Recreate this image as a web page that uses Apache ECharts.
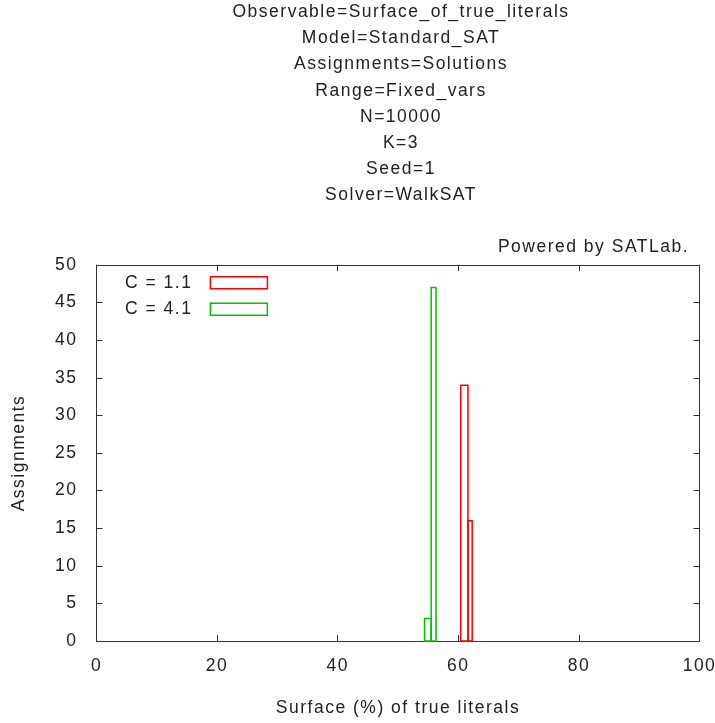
<!DOCTYPE html>
<html>
<head>
<meta charset="utf-8">
<script src="https://cdn.jsdelivr.net/npm/echarts@6/dist/echarts.min.js"></script>
<style>html,body{margin:0;padding:0;background:#fff;}#c{width:715px;height:723px;}</style>
</head>
<body>
<div id="c"></div>
<script>
// Title lines
const titleLines = [
  "Observable=Surface_of_true_literals",
  "Model=Standard_SAT",
  "Assignments=Solutions",
  "Range=Fixed_vars",
  "N=10000",
  "K=3",
  "Seed=1",
  "Solver=WalkSAT"
];
const xLabel = "Surface (%) of true literals";
const yLabel = "Assignments";
const credit = "Powered by SATLab.";
const seriesNames = ["C = 1.1", "C = 4.1"];
// histogram bins: [start, end, count]
const binsC11 = [[60.4, 61.6, 34], [61.6, 62.3, 16]];
const binsC41 = [[54.4, 55.5, 3], [55.5, 56.3, 47]];
const xTicks = [0, 20, 40, 60, 80, 100];
const yTicks = [0, 5, 10, 15, 20, 25, 30, 35, 40, 45, 50];

const FONT = "Liberation Sans";
const FS = 17.5;
const TXT = "#222";
const colors = ["#ff0000", "#00c000"];

// wide letter spacing like the original gnuplot/libgd text rendering
(function () {
  const proto = CanvasRenderingContext2D.prototype;
  const desc = Object.getOwnPropertyDescriptor(proto, 'font');
  if (desc && desc.set && ('letterSpacing' in proto)) {
    Object.defineProperty(proto, 'font', {
      configurable: true,
      get: function () { return desc.get.call(this); },
      set: function (v) { desc.set.call(this, v); this.letterSpacing = '1.5px'; }
    });
  }
})();

const chart = echarts.init(document.getElementById('c'), null, { renderer: 'canvas' });

function makeRender(color) {
  return function (params, api) {
    const p0 = api.coord([api.value(0), 0]);
    const p1 = api.coord([api.value(1), api.value(2)]);
    return {
      type: 'rect',
      shape: { x: p0[0], y: p1[1], width: p1[0] - p0[0], height: p0[1] - p1[1] },
      style: { fill: 'none', stroke: color, lineWidth: 1.5 }
    };
  };
}

const axisCommon = {
  type: 'value',
  splitLine: { show: false },
  axisLine: { show: true, onZero: false, lineStyle: { color: '#333', width: 1 } },
  axisTick: { show: true, inside: true, length: 6, lineStyle: { color: '#333' } }
};

chart.setOption({
  animation: false,
  backgroundColor: '#fff',
  title: {
    text: titleLines.join('\n'),
    left: 396, top: -6, textAlign: 'center',
    textStyle: { fontFamily: FONT, fontSize: FS, fontWeight: 'normal', color: TXT, lineHeight: 26.2 }
  },
  grid: { left: 96.5, right: 15.5, top: 265, bottom: 82, outerBoundsMode: 'none', containLabel: false },
  legend: {
    orient: 'vertical', left: 120, top: 268, align: 'right',
    itemWidth: 57, itemHeight: 12, itemGap: 7,
    textStyle: { fontFamily: FONT, fontSize: FS, color: TXT, padding: [0, 13, 0, 0] },
    data: [
      { name: seriesNames[0], icon: 'rect', itemStyle: { color: '#fff', borderColor: colors[0], borderWidth: 1.5 } },
      { name: seriesNames[1], icon: 'rect', itemStyle: { color: '#fff', borderColor: colors[1], borderWidth: 1.5 } }
    ]
  },
  xAxis: [
    Object.assign({}, axisCommon, {
      position: 'bottom', min: xTicks[0], max: xTicks[xTicks.length - 1], interval: 20,
      name: xLabel, nameLocation: 'middle', nameGap: 57,
      nameTextStyle: { fontFamily: FONT, fontSize: FS, color: TXT },
      axisLabel: { fontFamily: FONT, fontSize: FS, color: TXT, margin: 15 }
    }),
    Object.assign({}, axisCommon, {
      position: 'top', min: xTicks[0], max: xTicks[xTicks.length - 1], interval: 20,
      axisLabel: { show: false }
    })
  ],
  yAxis: [
    Object.assign({}, axisCommon, {
      position: 'left', min: yTicks[0], max: yTicks[yTicks.length - 1], interval: 5,
      name: yLabel, nameLocation: 'middle', nameGap: 68,
      nameTextStyle: { fontFamily: FONT, fontSize: FS, color: TXT },
      axisLabel: { fontFamily: FONT, fontSize: FS, color: TXT, margin: 19 }
    }),
    Object.assign({}, axisCommon, {
      position: 'right', min: yTicks[0], max: yTicks[yTicks.length - 1], interval: 5,
      axisLabel: { show: false }
    })
  ],
  graphic: [{
    type: 'text', right: 26, top: 237,
    style: { text: credit, font: FS + 'px "' + FONT + '"', fill: TXT }
  }],
  series: [
    {
      name: seriesNames[0], type: 'custom', xAxisIndex: 0, yAxisIndex: 0,
      renderItem: makeRender(colors[0]), encode: { x: [0, 1], y: 2 },
      itemStyle: { color: colors[0] }, data: binsC11
    },
    {
      name: seriesNames[1], type: 'custom', xAxisIndex: 0, yAxisIndex: 0,
      renderItem: makeRender(colors[1]), encode: { x: [0, 1], y: 2 },
      itemStyle: { color: colors[1] }, data: binsC41
    }
  ]
});
</script>
</body>
</html>
